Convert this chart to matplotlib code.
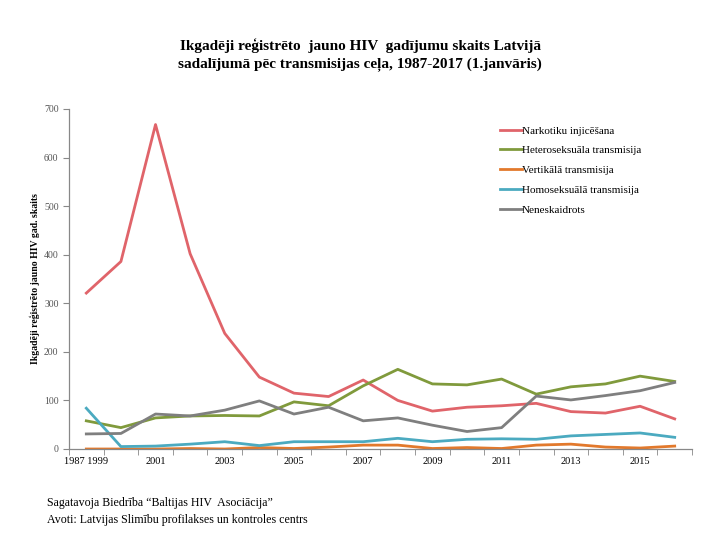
import matplotlib
matplotlib.use("Agg")
import matplotlib.pyplot as plt
import numpy as np

categories = ["1987 1999", "2000", "2001", "2002", "2003", "2004", "2005", "2006", "2007",
              "2008", "2009", "2010", "2011", "2012", "2013", "2014", "2015", "2016"]
narkotiku = [321, 386, 668, 402, 238, 148, 115, 108, 142, 100, 78, 86, 89, 94, 77, 74, 88, 62]
hetero = [58, 44, 64, 68, 69, 68, 97, 89, 130, 164, 134, 132, 144, 113, 128, 134, 150, 139]
vertikala = [0, 0, 0, 1, 0, 3, 1, 4, 8, 8, 1, 3, 1, 8, 10, 4, 2, 6]
homo = [84, 5, 6, 10, 15, 7, 15, 15, 15, 22, 15, 20, 21, 20, 27, 30, 33, 24]
neneskaidrots = [31, 32, 72, 68, 80, 99, 72, 86, 58, 64, 49, 36, 44, 109, 101, 110, 120, 137]

series = [
    ("Narkotiku injicēšana", narkotiku, "#E0646A"),
    ("Heteroseksuāla transmisija", hetero, "#809A3C"),
    ("Vertikālā transmisija", vertikala, "#E2792C"),
    ("Homoseksuālā transmisija", homo, "#4BAAC0"),
    ("Neneskaidrots", neneskaidrots, "#7F7F7F"),
]

serif = "Liberation Serif"
fig = plt.figure(figsize=(7.2, 5.4), dpi=100)
ax = fig.add_axes([69/720, 1 - 449/540, (692 - 69)/720, (449 - 109)/540])

x = np.arange(len(categories))
for name, vals, col in series:
    ax.plot(x, vals, color=col, lw=2.0, label=name, solid_joinstyle="round")

ax.set_xlim(-0.5, len(categories) - 0.5)
ax.set_ylim(0, 700)
ax.set_yticks(range(0, 701, 100))
ax.set_xticks(x[::2])
ax.set_xticklabels(categories[::2], fontfamily=serif, fontsize=7.5)
ax.set_xticks(np.arange(-0.5, len(categories), 1), minor=True)
ax.tick_params(axis="x", which="major", length=0, pad=6)
ax.tick_params(axis="x", which="minor", length=4, color="#888888", direction="out")
ax.tick_params(axis="y", length=4, color="#888888", labelsize=7, labelcolor="#555555")
for lab in ax.get_yticklabels():
    lab.set_fontfamily(serif)
for s in ["top", "right"]:
    ax.spines[s].set_visible(False)
for s in ["left", "bottom"]:
    ax.spines[s].set_color("#888888")
    ax.spines[s].set_linewidth(0.9)

ax.set_ylabel("Ikgadēji reģistrēto jauno HIV gad. skaits", fontfamily=serif,
              fontsize=7, fontweight="bold", labelpad=3)

leg = ax.legend(loc="upper left", bbox_to_anchor=(0.675, 0.98), frameon=False,
                prop={"family": serif, "size": 8}, handlelength=2.0,
                handletextpad=0.0, labelspacing=0.9)

fig.text(0.5, 1 - 46/540, "Ikgadēji reģistrēto  jauno HIV  gadījumu skaits Latvijā",
         ha="center", va="center", fontfamily=serif, fontsize=11, fontweight="bold")
fig.text(0.5, 1 - 65/540, "sadalījumā pēc transmisijas ceļa, 1987-2017 (1.janvāris)",
         ha="center", va="center", fontfamily=serif, fontsize=11, fontweight="bold")

fig.text(47/720, 1 - 503/540, "Sagatavoja Biedrība “Baltijas HIV  Asociācija”",
         ha="left", va="center", fontfamily=serif, fontsize=8.6)
fig.text(47/720, 1 - 520/540, "Avoti: Latvijas Slimību profilakses un kontroles centrs",
         ha="left", va="center", fontfamily=serif, fontsize=8.6)

fig.savefig("out.png", dpi=100)
